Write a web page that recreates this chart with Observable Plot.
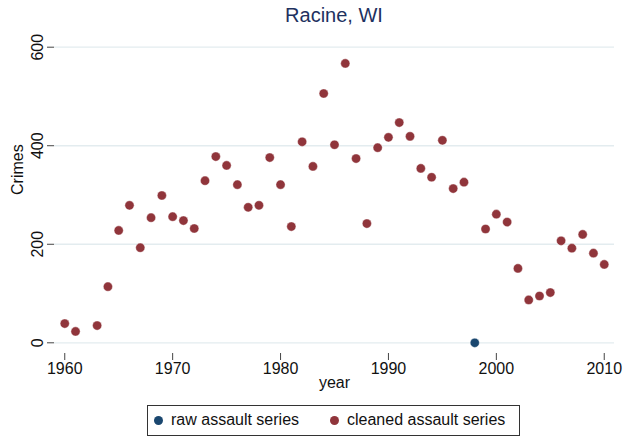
<!DOCTYPE html>
<html>
<head>
<meta charset="utf-8">
<script src="https://cdn.jsdelivr.net/npm/d3@7"></script>
<script src="https://cdn.jsdelivr.net/npm/@observablehq/plot@0.6"></script>
<style>
  html, body { margin: 0; padding: 0; background: #fff; }
  body { font-family: "Liberation Sans", Arial, sans-serif; }
  #wrap { position: relative; width: 625px; height: 439px; overflow: hidden; }
  #title { position: absolute; left: 54px; width: 560px; top: 4px; text-align: center;
           font-size: 20px; color: #1e3160; }
  #legend { position: absolute; left: 147px; top: 405px; width: 373px; height: 31px;
            border: 1px solid #333; box-sizing: border-box; font-size: 16px; color: #111; }
  .item { position: absolute; top: 5px; display: flex; align-items: center; }
  .sw { width: 9px; height: 9px; border-radius: 50%; margin-right: 8px; }
</style>
</head>
<body>
<div id="wrap">
  <div id="chart"></div>
  <div id="title">Racine, WI</div>
  <div id="legend"></div>
</div>
<script>
const cleanedYears = [1960,1961,1963,1964,1965,1966,1967,1968,1969,1970,1971,1972,1973,1974,1975,1976,1977,1978,1979,1980,1981,1982,1983,1984,1985,1986,1987,1988,1989,1990,1991,1992,1993,1994,1995,1996,1997,1999,2000,2001,2002,2003,2004,2005,2006,2007,2008,2009,2010];
const cleanedValues = [39,23,35,114,228,279,193,254,299,256,248,232,329,378,360,321,275,279,376,321,236,408,358,506,402,567,374,242,396,417,447,419,354,336,411,313,326,231,261,245,151,87,95,102,207,192,220,182,159];
const rawYears = [1998];
const rawValues = [0];
const seriesNames = ["raw assault series", "cleaned assault series"];
const seriesColors = ["#1a476f", "#90353b"];
const xTicks = [1960, 1970, 1980, 1990, 2000, 2010];
const yTicks = [0, 200, 400, 600];

const cleaned = cleanedYears.map((y, i) => ({year: y, value: cleanedValues[i]}));
const raw = rawYears.map((y, i) => ({year: y, value: rawValues[i]}));

const chart = Plot.plot({
  width: 625,
  height: 439,
  marginLeft: 54,
  marginRight: 11,
  marginTop: 36,
  marginBottom: 86,
  style: {fontFamily: "Liberation Sans, Arial, sans-serif", background: "transparent"},
  x: {domain: [1959.05, 2010.95]},
  y: {domain: [0, 600], insetTop: 10.7, insetBottom: 10.7},
  marks: [
    Plot.gridY(yTicks, {stroke: "#e3ecef", strokeOpacity: 1, strokeWidth: 1.3}),
    Plot.axisX(xTicks, {tickSize: 7, tickPadding: 2, fontSize: 16, tickFormat: d => String(d),
                        stroke: "#444", label: null, color: "#111"}),
    Plot.axisY(yTicks, {tickSize: 7, tickPadding: 5, tickRotate: -90, fontSize: 16,
                        stroke: "#444", label: null, color: "#111"}),
    Plot.text(["year"], {frameAnchor: "bottom", dy: 34, fontSize: 16, fill: "#111"}),
    Plot.text(["Crimes"], {frameAnchor: "left", dx: -37, rotate: -90, fontSize: 16, fill: "#111"}),
    Plot.dot(raw, {x: "year", y: "value", r: 4.6, fill: seriesColors[0], stroke: "#fff", strokeWidth: 0.4}),
    Plot.dot(cleaned, {x: "year", y: "value", r: 4.6, fill: seriesColors[1], stroke: "#fff", strokeWidth: 0.4})
  ]
});
document.getElementById("chart").appendChild(chart);

const legend = document.getElementById("legend");
const lefts = [6, 182];
seriesNames.forEach((name, i) => {
  const it = document.createElement("div");
  it.className = "item";
  it.style.left = lefts[i] + "px";
  const sw = document.createElement("span");
  sw.className = "sw";
  sw.style.background = seriesColors[i];
  const tx = document.createElement("span");
  tx.textContent = name;
  it.appendChild(sw);
  it.appendChild(tx);
  legend.appendChild(it);
});
</script>
</body>
</html>
